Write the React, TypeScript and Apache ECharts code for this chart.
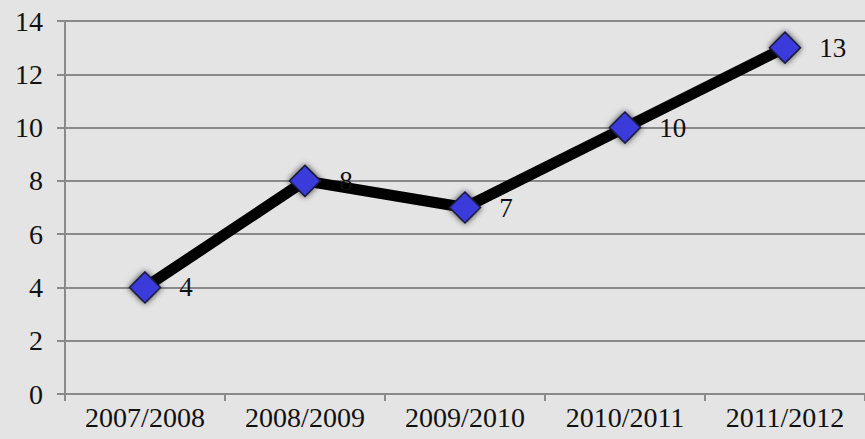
import React, { useEffect, useRef } from "react";
import * as echarts from "echarts";

const categories = ["2007/2008", "2008/2009", "2009/2010", "2010/2011", "2011/2012"];
const values = [4, 8, 7, 10, 13];
const yTicks = { min: 0, max: 14, interval: 2 };

export default function App() {
  const ref = useRef<HTMLDivElement>(null);
  useEffect(() => {
    if (!ref.current) return;
    const chart = echarts.init(ref.current, null, { renderer: "svg" });
    const font = "'Liberation Serif', 'DejaVu Serif', serif";
    chart.setOption({
      animation: false,
      backgroundColor: "#e4e4e4",
      grid: { left: 65, right: -2, top: 21, bottom: 45 },
      xAxis: {
        type: "category",
        data: categories,
        boundaryGap: true,
        axisLine: { show: true, lineStyle: { color: "#8a8a8a", width: 2 } },
        axisTick: { show: true, length: 7, inside: false, alignWithLabel: false, lineStyle: { color: "#8a8a8a", width: 2 } },
        axisLabel: { color: "#111", fontFamily: font, fontSize: 28, margin: 9 },
        splitLine: { show: false },
      },
      yAxis: {
        type: "value",
        min: yTicks.min,
        max: yTicks.max,
        interval: yTicks.interval,
        axisLine: { show: true, lineStyle: { color: "#8a8a8a", width: 2 } },
        axisTick: { show: true, length: 8, lineStyle: { color: "#8a8a8a", width: 2 } },
        axisLabel: { color: "#111", fontFamily: font, fontSize: 28, margin: 22 },
        splitLine: { show: true, lineStyle: { color: "#8a8a8a", width: 2 } },
      },
      series: [
        {
          type: "line",
          data: values,
          symbol: "diamond",
          symbolSize: 31,
          lineStyle: { color: "#000", width: 11 },
          itemStyle: {
            color: "#3b3bdc",
            borderColor: "#1a1a3a",
            borderWidth: 1.5,
            shadowColor: "rgba(0,0,0,0.75)",
            shadowBlur: 6,
          },
          label: {
            show: true,
            position: "right",
            distance: 18,
            color: "#111",
            fontFamily: font,
            fontSize: 27,
          },
        },
      ],
    });
    return () => chart.dispose();
  }, []);
  return (
    <div
      ref={ref}
      style={{ position: "absolute", left: 0, top: 0, width: 865, height: 439 }}
    />
  );
}
